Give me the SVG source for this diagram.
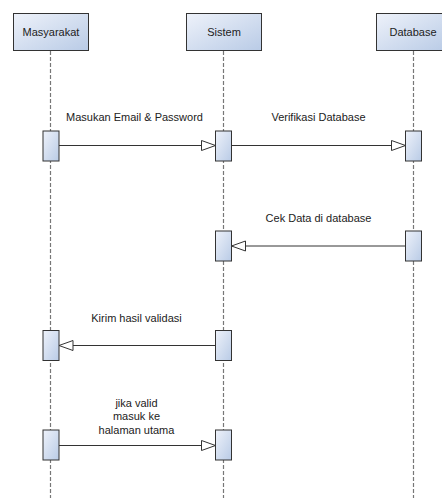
<svg xmlns="http://www.w3.org/2000/svg" width="442" height="498" viewBox="0 0 442 498">
<defs>
<linearGradient id="g" x1="0" y1="0" x2="1" y2="1">
<stop offset="0" stop-color="#eef2fa"/>
<stop offset="1" stop-color="#b9cbe6"/>
</linearGradient>
<marker id="tri" markerWidth="16" markerHeight="12" refX="15" refY="6" orient="auto" markerUnits="userSpaceOnUse">
<path d="M1,1 L15,6 L1,11 Z" fill="#fff" stroke="#333" stroke-width="1"/>
</marker>
<style>
.box{fill:url(#g);stroke:#333;stroke-width:1}
.act{fill:url(#g);stroke:#333;stroke-width:1}
.life{stroke:#777;stroke-width:1.2;stroke-dasharray:4 2;fill:none}
.msg{stroke:#333;stroke-width:1;fill:none;marker-end:url(#tri)}
text{font-family:"Liberation Sans",Arial,sans-serif;font-size:11px;fill:#222;text-anchor:middle}
</style>
</defs>
<rect width="442" height="498" fill="#fff"/>
<g id="lifelines">
<line class="life" x1="50.5" y1="51" x2="50.5" y2="498"/>
<line class="life" x1="223.5" y1="51" x2="223.5" y2="498"/>
<line class="life" x1="413.5" y1="51" x2="413.5" y2="498"/>
</g>
<g id="masyarakat">
<rect class="box" x="13.5" y="13.5" width="75" height="37"/>
<text x="51" y="36">Masyarakat</text>
</g>
<g id="sistem">
<rect class="box" x="186.5" y="13.5" width="75" height="37"/>
<text x="224" y="36">Sistem</text>
</g>
<g id="database">
<rect class="box" x="376.5" y="13.5" width="70" height="37"/>
<text x="413" y="36">Database</text>
</g>
<g id="activations">
<rect class="act" x="43" y="131" width="16" height="30"/>
<rect class="act" x="215.5" y="131" width="16" height="30"/>
<rect class="act" x="405.5" y="131" width="16" height="30"/>
<rect class="act" x="215.5" y="231" width="16" height="30"/>
<rect class="act" x="405.5" y="231" width="16" height="30"/>
<rect class="act" x="43" y="330.5" width="16" height="30"/>
<rect class="act" x="215.5" y="330.5" width="16" height="30"/>
<rect class="act" x="43" y="430" width="16" height="30"/>
<rect class="act" x="215.5" y="430" width="16" height="30"/>
</g>
<g id="connectors">
<line class="msg" x1="59" y1="145.5" x2="215.5" y2="145.5"/>
<line class="msg" x1="231.5" y1="145.5" x2="405.5" y2="145.5"/>
<line class="msg" x1="405.5" y1="246" x2="231.5" y2="246"/>
<line class="msg" x1="215.5" y1="345.5" x2="59" y2="345.5"/>
<line class="msg" x1="59" y1="445.5" x2="215.5" y2="445.5"/>
</g>
<g id="labels">
<text x="134.5" y="121">Masukan Email &amp; Password</text>
<text x="318.5" y="121">Verifikasi Database</text>
<text x="318.5" y="222">Cek Data di database</text>
<text x="136.5" y="322">Kirim hasil validasi</text>
<text x="136.5" y="407">jika valid</text>
<text x="136.5" y="420">masuk ke</text>
<text x="136.5" y="433.5">halaman utama</text>
</g>
</svg>
